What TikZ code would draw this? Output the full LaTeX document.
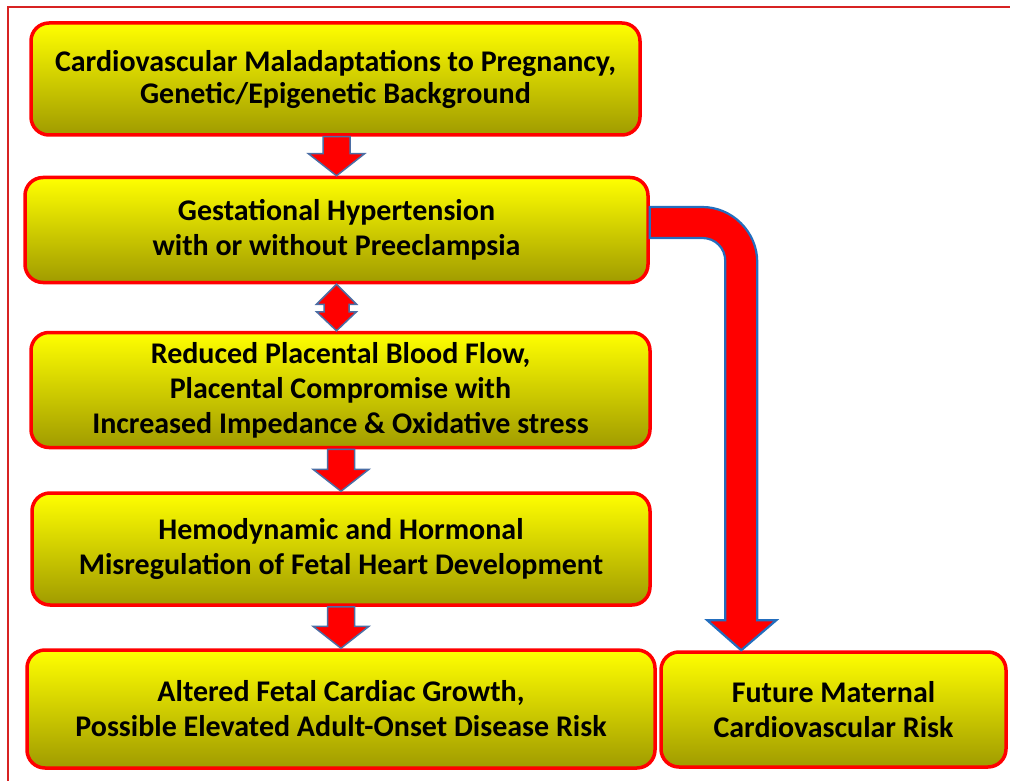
\documentclass[tikz,border=0pt]{standalone}
\usepackage{fontspec}
\setmainfont{Carlito}
\usetikzlibrary{calc}

\definecolor{boxred}{RGB}{255,0,0}
\definecolor{olivebot}{RGB}{160,155,0}
\definecolor{arrowline}{RGB}{75,110,165}
\definecolor{bentline}{RGB}{35,110,190}
\definecolor{framered}{RGB}{215,35,35}

\newcommand{\downarr}[2]{%
  \draw[blockarrow] let \p1=(#1.south), \p2=(#2.north) in
    (\x2-13.5pt,\y1) -- (\x2+13.5pt,\y1) -- (\x2+13.5pt,\y2+22pt) -- (\x2+28pt,\y2+22pt)
    -- (\x2,\y2) -- (\x2-28pt,\y2+22pt) -- (\x2-13.5pt,\y2+22pt) -- cycle;}

\begin{document}
\begin{tikzpicture}[x=1pt,y=-1pt]

\tikzstyle{stage}=[draw=boxred, line width=3.5pt, rounded corners=18pt, top color=yellow, bottom color=olivebot, align=center, inner sep=0pt, font=\bfseries\fontsize{30}{35}\selectfont]
\tikzstyle{blockarrow}=[fill=red, draw=arrowline, line width=1.5pt, line join=miter]
\tikzstyle{bentarrow}=[fill=red, draw=bentline, line width=2.2pt, line join=miter]

\useasboundingbox (0,0) rectangle (1010,781);
\draw[framered, line width=1.5pt] (8,781) -- (8,7) -- (1010,7);

\node[stage, minimum width=609pt, minimum height=112pt, font=\bfseries\fontsize{30}{32}\selectfont] (mal) at (335.5,79) {Cardiovascular Maladaptations to Pregnancy,\\Genetic/Epigenetic Background};
\node[stage, minimum width=623pt, minimum height=105pt] (gest) at (336.5,230) {Gestational Hypertension\\with or without Preeclampsia};
\node[stage, minimum width=619pt, minimum height=115pt] (plac) at (340.5,390) {Reduced Placental Blood Flow,\\Placental Compromise with\\Increased Impedance \& Oxidative stress};
\node[stage, minimum width=618pt, minimum height=112pt] (hemo) at (341,549) {Hemodynamic and Hormonal\\Misregulation of Fetal Heart Development};
\node[stage, minimum width=628pt, minimum height=118pt] (fetal) at (341,709) {Altered Fetal Cardiac Growth,\\Possible Elevated Adult-Onset Disease Risk};
\node[stage, minimum width=345pt, minimum height=115pt] (matr) at (833.5,709.5) {Future Maternal\\Cardiovascular Risk};

\downarr{mal}{gest}
\downarr{plac}{hemo}
\downarr{hemo}{fetal}

\draw[blockarrow] let \p1=(gest.south), \p2=(plac.north) in
  (\x1,\y1) -- (\x1+20pt,\y1-20pt) -- (\x1+12.5pt,\y1-20pt) -- (\x1+12.5pt,\y2+19pt) -- (\x1+20pt,\y2+19pt)
  -- (\x1,\y2) -- (\x1-20pt,\y2+19pt) -- (\x1-12.5pt,\y2+19pt) -- (\x1-12.5pt,\y1-20pt) -- (\x1-20pt,\y1-20pt) -- cycle;

\draw[bentarrow] let \p1=(gest.east), \p2=([xshift=82pt]matr.north west) in
  (\x1,\y1+23pt) -- (\x2-39pt,\y1+23pt) .. controls (\x2-9pt,\y1+23pt) and (\x2+16pt,\y1-2pt) .. (\x2+16pt,\y1-32pt)
  -- (\x2+16pt,\y2+30pt) -- (\x2+35pt,\y2+30pt) -- (\x2,\y2) -- (\x2-34pt,\y2+30pt) -- (\x2-16pt,\y2+30pt)
  -- (\x2-16pt,\y1-31pt) .. controls (\x2-16pt,\y1-18pt) and (\x2-26pt,\y1-8pt) .. (\x2-39pt,\y1-8pt)
  -- (\x1,\y1-8pt) -- cycle;

\end{tikzpicture}
\end{document}
